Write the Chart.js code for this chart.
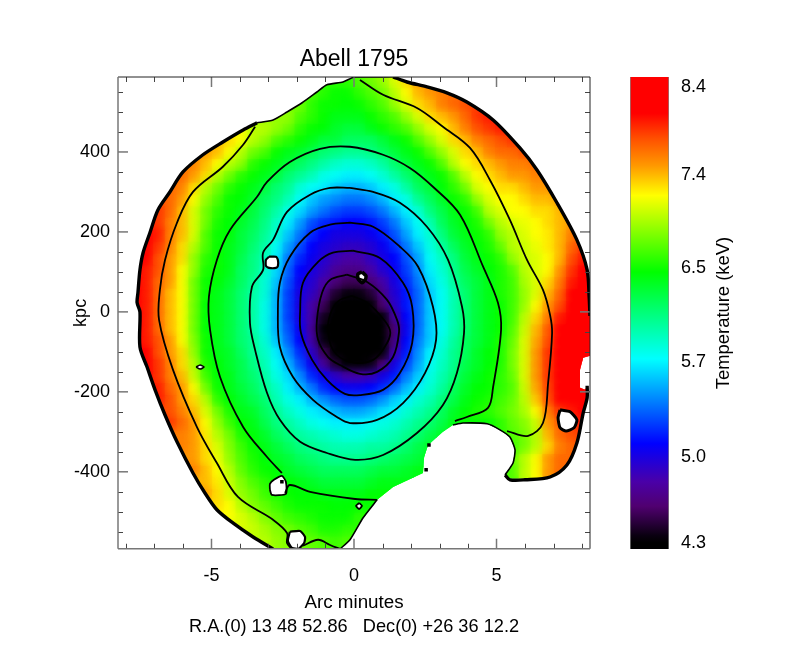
<!DOCTYPE html>
<html>
<head>
<meta charset="utf-8">
<title>Abell 1795</title>
<script src="https://cdn.jsdelivr.net/npm/chart.js@4/dist/chart.umd.min.js"></script>
<style>
body { margin: 0; background: #fff; }
canvas { position: absolute; left: 0; top: 0; }
</style>
</head>
<body>
<canvas id="map" width="786" height="668"></canvas>
<canvas id="bar" width="786" height="668"></canvas>
<script>
// colour table: temperature (keV) and the colour the bar shows there
var colorTemps = [4.3, 4.36, 4.6, 4.8, 5.1, 5.73, 6.15, 6.47, 7.2, 7.5, 7.81, 8.1, 8.4];
var colorHexes = ["#000000", "#0a0010", "#500070", "#4a00a8", "#0000ff", "#00ffff", "#00ff70", "#00ff00", "#ffff00", "#ff9900", "#ff5000", "#ff0000", "#ff0000"];
var barLabels = [4.3, 5.0, 5.7, 6.5, 7.4, 8.4];
var barLabelPlaces = [0, 0.94, 1.98, 3.01, 4.04, 5];

var xTicksMajor = [-5, 0, 5];
var xTicksMinor = [-8, -7, -6, -4, -3, -2, -1, 1, 2, 3, 4, 6, 7, 8];
var yTicksMajor = [-400, -200, 0, 200, 400];
var yTicksMinor = [-550, -500, -450, -350, -300, -250, -150, -100, -50, 50, 100, 150, 250, 300, 350, 450, 500, 550];

// temperature map read by eye, one row per 29.5 kpc from the top, first column of each row in heatStart
var heatStart = [17, 16, 15, 14, 10, 8, 7, 6, 5, 4, 3, 3, 3, 2, 2, 1, 1, 1, 1, 1, 1, 1, 1, 1, 1, 2, 3, 3, 4, 4, 5, 5, 6, 6, 7, 7, 8, 9, 10, 12];
var heatRows = [
[6.6,6.6,6.6,6.7,6.8,6.9,7.1,7.3,7.5,7.6,7.6],
[6.7,6.6,6.5,6.5,6.6,6.7,6.8,7.0,7.2,7.4,7.5,7.6,7.7,7.7],
[6.8,6.6,6.5,6.5,6.45,6.5,6.6,6.7,6.9,7.1,7.3,7.4,7.6,7.7,7.8,7.9],
[6.9,6.7,6.6,6.5,6.4,6.4,6.4,6.5,6.6,6.7,6.9,7.1,7.3,7.4,7.5,7.7,7.9,8.0],
[7.2,7.0,7.0,6.9,6.8,6.6,6.5,6.45,6.35,6.3,6.3,6.4,6.5,6.6,6.7,6.9,7.1,7.2,7.4,7.6,7.8,7.9,8.0],
[7.4,7.3,7.2,7.0,6.9,6.7,6.6,6.5,6.4,6.3,6.3,6.2,6.2,6.2,6.3,6.4,6.5,6.7,6.9,7.1,7.3,7.4,7.6,7.7,7.8,7.9],
[7.5,7.4,7.2,7.0,6.8,6.7,6.5,6.4,6.35,6.25,6.15,6.1,6.05,6.05,6.1,6.2,6.3,6.4,6.5,6.7,6.9,7.1,7.3,7.4,7.6,7.7,7.7,7.8],
[7.6,7.4,7.2,7.0,6.9,6.6,6.5,6.4,6.3,6.2,6.1,6.0,5.9,5.85,5.85,5.9,6.0,6.15,6.3,6.4,6.5,6.7,7.0,7.2,7.3,7.4,7.5,7.6,7.6,7.7,7.8],
[7.7,7.5,7.3,7.0,6.8,6.6,6.5,6.4,6.3,6.15,6.05,5.95,5.8,5.75,5.7,5.7,5.75,5.85,6.0,6.15,6.3,6.4,6.5,6.7,7.0,7.2,7.3,7.4,7.5,7.5,7.6,7.6,7.7],
[7.7,7.6,7.3,7.0,6.8,6.6,6.5,6.4,6.3,6.15,6.05,5.85,5.75,5.7,5.6,5.55,5.55,5.6,5.7,5.8,6.0,6.2,6.3,6.45,6.6,6.8,7.1,7.2,7.3,7.3,7.4,7.5,7.5,7.6],
[7.8,7.7,7.5,7.2,6.9,6.7,6.5,6.45,6.35,6.2,6.1,5.95,5.75,5.6,5.5,5.45,5.4,5.4,5.45,5.55,5.7,5.8,6.05,6.2,6.35,6.5,6.6,6.9,7.1,7.2,7.2,7.3,7.4,7.4,7.5,7.6,7.7],
[7.9,7.7,7.4,7.1,6.8,6.6,6.5,6.4,6.3,6.15,6.0,5.8,5.65,5.5,5.4,5.3,5.25,5.25,5.3,5.4,5.55,5.7,5.85,6.1,6.25,6.4,6.5,6.65,7.0,7.1,7.2,7.2,7.3,7.3,7.4,7.6,7.7],
[7.9,7.6,7.4,7.1,6.8,6.55,6.45,6.35,6.25,6.1,5.9,5.7,5.5,5.3,5.2,5.15,5.1,5.1,5.15,5.25,5.4,5.6,5.75,5.95,6.2,6.35,6.45,6.55,6.8,7.0,7.1,7.15,7.2,7.3,7.4,7.5,7.7],
[8.1,8.0,7.6,7.4,7.1,6.7,6.5,6.45,6.3,6.2,6.05,5.85,5.6,5.4,5.2,5.1,5.0,5.0,5.0,5.05,5.15,5.3,5.5,5.7,5.85,6.1,6.3,6.4,6.5,6.6,6.9,7.0,7.1,7.2,7.25,7.4,7.6,7.8],
[8.1,7.9,7.6,7.3,7.0,6.7,6.5,6.4,6.3,6.15,6.0,5.75,5.5,5.3,5.1,5.0,4.95,4.9,4.9,4.95,5.05,5.2,5.4,5.6,5.8,6.0,6.2,6.35,6.45,6.55,6.75,7.0,7.05,7.15,7.25,7.4,7.7,7.9],
[8.2,8.1,7.8,7.5,7.3,6.9,6.6,6.5,6.4,6.25,6.1,5.95,5.7,5.4,5.2,5.05,4.95,4.85,4.8,4.8,4.9,5.0,5.1,5.3,5.5,5.75,5.9,6.1,6.3,6.4,6.5,6.6,6.9,7.05,7.1,7.2,7.4,7.8,8.0],
[8.2,8.0,7.8,7.5,7.2,6.9,6.55,6.5,6.4,6.2,6.1,5.9,5.65,5.35,5.1,5.0,4.9,4.75,4.7,4.7,4.8,4.95,5.05,5.25,5.45,5.7,5.85,6.05,6.25,6.35,6.45,6.55,6.7,7.0,7.1,7.2,7.5,7.9,8.1],
[8.3,8.0,7.7,7.5,7.2,6.8,6.5,6.45,6.35,6.2,6.05,5.85,5.6,5.3,5.05,4.95,4.8,4.65,4.55,4.55,4.65,4.8,5.0,5.2,5.4,5.65,5.8,6.0,6.2,6.3,6.4,6.55,6.65,6.95,7.1,7.3,7.6,8.0,8.2],
[8.3,8.0,7.7,7.4,7.2,6.8,6.5,6.4,6.3,6.15,6.0,5.85,5.55,5.25,5.0,4.9,4.7,4.45,4.35,4.35,4.45,4.7,4.95,5.15,5.35,5.6,5.75,5.95,6.15,6.3,6.4,6.55,6.65,6.9,7.1,7.4,7.7,8.1,8.3],
[8.3,8.0,7.7,7.4,7.2,6.8,6.45,6.4,6.3,6.15,6.0,5.8,5.55,5.25,5.0,4.8,4.55,4.3,4.3,4.3,4.3,4.6,4.9,5.15,5.35,5.6,5.75,5.95,6.15,6.3,6.4,6.5,6.65,6.9,7.2,7.5,7.8,8.1,8.3],
[8.3,8.0,7.7,7.4,7.2,6.8,6.45,6.4,6.3,6.15,6.0,5.8,5.55,5.25,5.0,4.8,4.4,4.3,4.3,4.3,4.3,4.3,4.75,5.1,5.35,5.6,5.75,5.95,6.15,6.3,6.4,6.5,6.65,7.0,7.3,7.6,8.0,8.3,8.4],
[8.3,8.0,7.7,7.4,7.2,6.8,6.45,6.4,6.3,6.15,6.0,5.8,5.55,5.3,5.05,4.75,4.3,4.3,4.3,4.3,4.3,4.3,4.6,5.05,5.35,5.6,5.75,5.95,6.15,6.3,6.4,6.5,6.7,7.05,7.4,7.75,8.1,8.3,8.4],
[8.3,8.0,7.8,7.5,7.2,6.85,6.5,6.4,6.3,6.15,6.05,5.85,5.6,5.35,5.1,4.8,4.35,4.3,4.3,4.3,4.3,4.3,4.65,5.1,5.4,5.6,5.8,6.0,6.2,6.3,6.4,6.55,6.75,7.1,7.45,7.8,8.15,8.35,8.4],
[8.3,8.1,7.8,7.5,7.3,6.9,6.5,6.4,6.35,6.2,6.05,5.9,5.7,5.45,5.2,4.9,4.55,4.3,4.3,4.3,4.3,4.3,4.8,5.15,5.45,5.7,5.85,6.05,6.2,6.35,6.45,6.55,6.8,7.1,7.5,7.9,8.2,8.4,8.4],
[8.2,8.2,7.9,7.6,7.3,7.0,6.55,6.45,6.35,6.25,6.1,5.95,5.75,5.55,5.3,5.05,4.75,4.45,4.3,4.3,4.35,4.6,5.0,5.25,5.5,5.75,5.9,6.05,6.25,6.35,6.45,6.55,6.8,7.1,7.5,7.9,8.2,8.4,8.4],
[8.2,7.9,7.6,7.4,7.05,6.65,6.45,6.4,6.25,6.15,6.0,5.8,5.65,5.45,5.2,5.05,4.9,4.8,4.8,4.85,5.0,5.15,5.4,5.6,5.8,5.95,6.1,6.3,6.4,6.5,6.6,6.75,7.1,7.5,7.9,8.2,8.35,8.4],
[8.0,7.7,7.5,7.2,6.8,6.5,6.4,6.3,6.2,6.05,5.9,5.7,5.55,5.4,5.2,5.1,5.05,5.05,5.1,5.2,5.35,5.55,5.7,5.85,6.0,6.2,6.35,6.45,6.5,6.6,6.7,7.05,7.45,7.85,8.2,8.3,8.3],
[8.0,7.8,7.5,7.3,7.0,6.6,6.45,6.35,6.25,6.15,5.95,5.8,5.7,5.55,5.45,5.35,5.3,5.3,5.35,5.45,5.6,5.7,5.85,5.95,6.1,6.25,6.4,6.5,6.55,6.65,6.75,7.0,7.35,7.8,8.1,8.2,8.2],
[7.8,7.6,7.4,7.1,6.8,6.55,6.4,6.35,6.2,6.05,5.9,5.8,5.7,5.65,5.55,5.5,5.5,5.55,5.65,5.7,5.85,5.95,6.05,6.2,6.35,6.45,6.55,6.6,6.7,6.8,6.95,7.2,7.6,7.9,8.0,8.1],
[7.9,7.7,7.5,7.2,6.9,6.65,6.45,6.4,6.25,6.1,6.0,5.9,5.8,5.75,5.7,5.7,5.7,5.75,5.8,5.85,5.95,6.05,6.15,6.25,6.4,6.5,6.5,6.5,6.6,6.75,6.85,7.05,7.5,7.75,7.9,8.0],
[7.6,7.5,7.25,7.0,6.8,6.55,6.45,6.35,6.2,6.1,6.0,5.95,5.9,5.85,5.8,5.8,5.85,5.9,5.95,6.05,6.15,6.25,6.35,6.5,6.5,6.5,6.5,6.6,6.7,6.8,7.0,7.4,7.7,7.8,7.9],
[7.6,7.5,7.3,7.1,6.85,6.65,6.5,6.4,6.3,6.2,6.1,6.05,6.0,5.95,5.95,5.95,6.0,6.0,6.05,6.15,6.25,6.35,6.45,6.5,6.5,6.5,6.5,6.6,6.65,6.8,7.0,7.3,7.6,7.7,7.8],
[7.5,7.3,7.15,6.9,6.7,6.55,6.45,6.35,6.3,6.2,6.15,6.1,6.05,6.05,6.05,6.1,6.15,6.2,6.25,6.3,6.4,6.45,6.5,6.5,6.5,6.5,6.6,6.75,7.0,7.2,7.5,7.7,7.7],
[7.6,7.4,7.2,7.0,6.75,6.6,6.5,6.45,6.35,6.3,6.25,6.2,6.2,6.2,6.2,6.25,6.3,6.3,6.35,6.4,6.45,6.5,6.5,6.5,6.5,6.5,6.6,6.7,7.0,7.2,7.5,7.7,7.7],
[7.4,7.25,7.05,6.85,6.7,6.6,6.5,6.45,6.4,6.35,6.3,6.3,6.3,6.3,6.35,6.4,6.4],
[7.5,7.3,7.1,6.9,6.8,6.65,6.55,6.5,6.45,6.45,6.4,6.4,6.4,6.4,6.45,6.45],
[7.3,7.2,7.0,6.85,6.75,6.65,6.55,6.5,6.5,6.5,6.45,6.45,6.5,6.5],
[7.2,7.1,7.0,6.85,6.75,6.65,6.6,6.55,6.5,6.5,6.5,6.6,6.6],
[7.1,7.05,6.95,6.85,6.8,6.7,6.65,6.55,6.55,6.6,6.6],
[7.0,6.9,6.85,6.8,6.75,6.7,6.65,6.7,6.7]
];

// edge of the mapped region, arc minutes and kpc, clockwise from the top
var edgeEast = [[1.37,588],[1.86,575],[2.56,563],[3.26,548],[3.96,525],[4.88,480],[5.82,410],[6.42,355],[7.12,273],[7.82,180],[8.18,105],[8.25,38],[8.28,-10]];
var edgeNotchRight = [[8.28,-110],[8.04,-115],[7.93,-145],[7.93,-190],[8.11,-195]];
var edgeSouthEast = [[8.18,-185],[8.18,-215],[8.04,-253],[7.82,-328],[7.47,-383],[6.88,-413],[6.0,-420],[5.47,-420],[5.3,-408]];
var edgeBay = [[5.3,-408],[5.58,-378],[5.65,-345],[5.47,-313],[5.12,-295],[4.67,-280],[3.82,-278],[3.47,-283]];
var edgeStairs = [[3.12,-300],[2.6,-333],[2.46,-363],[2.42,-403],[1.37,-438]];
var edgeSouth = [[0.81,-470],[0.32,-515],[-0.14,-570],[-0.49,-593]];
var edgeWest = [[-2.84,-593],[-3.54,-563],[-4.25,-528],[-4.81,-495],[-5.23,-453],[-5.65,-403],[-6.21,-325],[-6.63,-258],[-6.98,-195],[-7.26,-138],[-7.51,-88],[-7.51,0],[-7.61,23],[-7.58,48],[-7.51,105],[-7.4,148],[-7.16,198],[-6.88,255],[-6.46,300],[-6.0,350],[-5.3,393],[-4.6,425],[-3.89,455],[-3.4,473]];
var edgeNorth = [[-3.4,473],[-2.84,480],[-2.35,500],[-1.82,523],[-1.3,550],[-0.95,568],[-0.39,575],[0.04,588],[1.37,588]];

// contour lines
var contourEast = [[0.21,580],[1.02,543],[2.21,510],[3.12,463],[4.07,410],[4.77,330],[5.47,230],[6.07,130],[6.63,55],[6.88,-8],[6.95,-53],[6.81,-178],[6.63,-278],[6.11,-310],[5.37,-298]];
var contourWest = [[-3.47,463],[-3.89,418],[-4.6,363],[-5.65,300],[-6.21,223],[-6.63,130],[-6.81,55],[-6.84,-20],[-6.35,-145],[-5.51,-288],[-4.81,-378],[-4.07,-463],[-2.84,-520],[-2.35,-553],[-2.35,-578],[-2.18,-593]];
var contourFoot = [[-1.79,-585],[-1.26,-570],[-0.84,-583],[-0.49,-593]];
var contourMid = [[3.54,-273],[3.96,-263],[4.7,-240],[4.88,-188],[5.16,-45],[5.05,23],[4.53,113],[3.72,243],[2.77,313],[1.96,360],[1.02,393],[-0.14,413],[-1.19,408],[-2.25,375],[-3.05,325],[-3.4,288],[-4.35,205],[-4.81,130],[-5.09,38],[-5.05,-45],[-4.7,-163],[-3.89,-288],[-3.05,-363],[-2.53,-403]];
var contourMidSouth = [[-2.42,-453],[-2.25,-433],[-1.54,-450],[0.04,-468],[0.81,-470]];
var contour60 = [[-0.14,310],[0.67,300],[1.61,273],[2.56,213],[3.3,130],[3.79,13],[3.86,-53],[3.61,-153],[3.12,-233],[2.21,-303],[1.02,-358],[0.04,-370],[-0.95,-353],[-1.89,-325],[-2.6,-270],[-3.05,-203],[-3.47,-95],[-3.65,-28],[-3.58,63],[-3.19,105],[-3.19,148],[-2.84,180],[-2.35,250],[-1.54,293],[-0.84,310],[-0.14,310]];
var contour57 = [[-0.14,223],[0.67,213],[1.61,163],[2.25,113],[2.77,13],[2.88,-70],[2.49,-153],[1.72,-228],[0.81,-270],[-0.14,-278],[-0.6,-263],[-1.44,-220],[-2.14,-163],[-2.6,-88],[-2.67,0],[-2.6,73],[-2.25,138],[-1.54,198],[-0.84,218],[-0.14,223]];
var contour53 = [[-0.04,153],[0.91,135],[1.72,73],[2.04,13],[2.04,-78],[1.61,-153],[1.02,-195],[0.21,-208],[-0.32,-205],[-0.95,-170],[-1.47,-120],[-1.86,-53],[-1.89,0],[-1.79,73],[-1.26,125],[-0.74,148],[-0.04,153]];
var contour49 = [[-0.25,93],[0.46,75],[1.16,30],[1.51,-20],[1.58,-50],[1.37,-113],[0.81,-150],[0.21,-155],[-0.49,-133],[-0.91,-113],[-1.26,-70],[-1.3,-20],[-1.12,48],[-0.84,80],[-0.25,93]];
var contour45 = [[-0.07,40],[0.46,23],[0.91,-8],[1.26,-45],[1.16,-78],[0.67,-120],[-0.14,-125],[-0.74,-95],[-0.91,-38],[-0.77,5],[-0.49,30],[-0.07,40]];
var contourLines = [contourEast, contourWest, contourFoot, contourMid, contourMidSouth, contour60, contour57, contour53, contour49, contour45];

// masked sources (white holes)
var holes = [
[[-2.98,138],[-2.74,138],[-2.67,130],[-2.67,115],[-2.74,110],[-2.98,110],[-3.09,115],[-3.09,130],[-2.98,138]],
[[-5.54,-138],[-5.4,-133],[-5.26,-138],[-5.4,-143],[-5.54,-138]],
[[-2.95,-445],[-2.95,-430],[-2.81,-420],[-2.53,-410],[-2.39,-425],[-2.39,-455],[-2.88,-458],[-2.95,-445]],
[[-2.25,-550],[-1.89,-548],[-1.72,-563],[-1.75,-578],[-1.96,-593],[-2.18,-590],[-2.32,-573],[-2.25,-550]],
[[0.18,-478],[0.28,-485],[0.18,-493],[0.07,-485],[0.18,-478]],
[[7.23,-245],[7.58,-250],[7.82,-270],[7.72,-290],[7.44,-298],[7.23,-290],[7.16,-265],[7.23,-245]],
[[0.28,100],[0.42,90],[0.39,80],[0.28,73],[0.14,83],[0.14,95],[0.28,100]]
];
var holeWidths = [2.2, 1.6, 1.8, 2.2, 1.8, 3, 3.6];
var specks = [[-2.53,-425],[2.53,-395],[2.63,-333]];

var fontName = "'Liberation Sans', Arial, sans-serif";

function toPoints(list) {
    return list.map(function (p) { return {x: p[0], y: p[1]}; });
}

function hexToRgb(hex) {
    return [parseInt(hex.substr(1, 2), 16), parseInt(hex.substr(3, 2), 16), parseInt(hex.substr(5, 2), 16)];
}

function tempColor(t) {
    for (var i = 1; i < colorTemps.length; i++) {
        if (t <= colorTemps[i]) {
            var f = (t - colorTemps[i - 1]) / (colorTemps[i] - colorTemps[i - 1]);
            var a = hexToRgb(colorHexes[i - 1]), b = hexToRgb(colorHexes[i]);
            return "rgb(" + Math.round(a[0] + (b[0] - a[0]) * f) + "," + Math.round(a[1] + (b[1] - a[1]) * f) + "," + Math.round(a[2] + (b[2] - a[2]) * f) + ")";
        }
    }
    return colorHexes[colorHexes.length - 1];
}

// the map cells: a repeat of the row ends and of the first and last row keeps the clipped edge opaque
var cellX = 16.56 / 40, cellY = 29.5;
var heatPoints = [], heatColors = [];
function addCell(col, row, t) {
    heatPoints.push({x: -8.28 + cellX * (col + 0.5), y: 587.5 - cellY * (row + 0.5)});
    heatColors.push(tempColor(t));
}
function addRow(row, src) {
    var vals = heatRows[src], start = heatStart[src];
    for (var k = -3; k < vals.length + 3; k++) {
        var v = vals[Math.max(0, Math.min(vals.length - 1, k))];
        addCell(start + k, row, v);
    }
}
addRow(-1, 0);
heatRows.forEach(function (r, j) { addRow(j, j); });
addRow(40, 39);

var edgePolygon = [].concat(edgeEast, edgeNotchRight, edgeSouthEast, edgeBay, edgeStairs, edgeSouth, edgeWest, edgeNorth);

function isHeat(chart, args) {
    var name = chart.data.datasets[args.index].label;
    return name === "temperature" || name === "temperature base";
}

var clipToEdge = {
    id: "clipToEdge",
    beforeDatasetDraw: function (chart, args) {
        if (!isHeat(chart, args)) return;
        var ctx = chart.ctx;
        ctx.save();
        ctx.beginPath();
        edgePolygon.forEach(function (p, i) {
            var px = chart.scales.x.getPixelForValue(p[0]), py = chart.scales.y.getPixelForValue(p[1]);
            if (i === 0) ctx.moveTo(px, py); else ctx.lineTo(px, py);
        });
        ctx.closePath();
        ctx.clip();
        // the base layer stays sharp so nothing shows through the blurred one
        if (chart.data.datasets[args.index].label === "temperature") ctx.filter = "blur(5px)";
    },
    afterDatasetDraw: function (chart, args) {
        if (isHeat(chart, args)) chart.ctx.restore();
    }
};

var frameTicks = {
    id: "frameTicks",
    afterDatasetsDraw: function (chart) {
        var ctx = chart.ctx, a = chart.chartArea, sx = chart.scales.x, sy = chart.scales.y;
        function tick(x1, y1, x2, y2, width, color) {
            ctx.beginPath();
            ctx.moveTo(x1, y1);
            ctx.lineTo(x2, y2);
            ctx.lineWidth = width;
            ctx.strokeStyle = color;
            ctx.stroke();
        }
        ctx.save();
        xTicksMinor.forEach(function (v) {
            var p = Math.round(sx.getPixelForValue(v)) + 0.5;
            tick(p, a.bottom, p, a.bottom - 5, 1, "#444");
            tick(p, a.top, p, a.top + 5, 1, "#444");
        });
        xTicksMajor.forEach(function (v) {
            var p = sx.getPixelForValue(v);
            tick(p, a.bottom, p, a.bottom - 10, 1.5, "#777");
            tick(p, a.top, p, a.top + 10, 1.5, "#777");
        });
        yTicksMinor.forEach(function (v) {
            var p = Math.round(sy.getPixelForValue(v)) + 0.5;
            tick(a.left, p, a.left + 5, p, 1, "#444");
            tick(a.right, p, a.right - 5, p, 1, "#444");
        });
        yTicksMajor.forEach(function (v) {
            var p = sy.getPixelForValue(v);
            tick(a.left, p, a.left + 10, p, 1.5, "#777");
            tick(a.right, p, a.right - 10, p, 1.5, "#777");
        });
        tick(a.left, a.top, a.right, a.top, 1, "#222");
        tick(a.right, a.top, a.right, a.bottom, 1, "#222");
        tick(a.left, a.top, a.left, a.bottom, 1.5, "#777");
        tick(a.left, a.bottom, a.right, a.bottom, 1.5, "#777");
        ctx.restore();
    }
};

function lineSet(list, width, tension) {
    return {
        data: toPoints(list), showLine: true, pointRadius: 0, borderColor: "#000",
        borderWidth: width, tension: tension, order: 1
    };
}

function valueTicks(list) {
    return function (scale) {
        scale.ticks = list.map(function (v) { return {value: v}; });
    };
}

var mapSets = [];
[edgeEast, edgeSouthEast, edgeWest].forEach(function (e) { mapSets.push(lineSet(e, 3.4, 0.3)); });
[edgeNorth, edgeBay, edgeSouth].forEach(function (e) { mapSets.push(lineSet(e, 1.6, 0.2)); });
contourLines.forEach(function (c) { mapSets.push(lineSet(c, 1.8, 0.35)); });
holes.forEach(function (h, i) {
    var s = lineSet(h, holeWidths[i], 0.2);
    s.fill = "shape";
    s.backgroundColor = "#fff";
    s.order = 2;
    mapSets.push(s);
});
mapSets.push({data: toPoints(specks), pointStyle: "rect", pointRadius: 2.5, pointBackgroundColor: "#000", pointBorderWidth: 0, order: 1});
mapSets.push({
    label: "temperature", data: heatPoints, pointStyle: "rect", pointRadius: 10,
    pointBackgroundColor: heatColors, pointBorderWidth: 0, order: 10
});
mapSets.push({
    label: "temperature base", data: heatPoints, pointStyle: "rect", pointRadius: 9,
    pointBackgroundColor: heatColors, pointBorderWidth: 0, order: 11
});

new Chart(document.getElementById("map"), {
    type: "scatter",
    data: {datasets: mapSets},
    plugins: [clipToEdge, frameTicks],
    options: {
        responsive: false,
        animation: false,
        layout: {padding: {left: 70, right: 196, top: 46, bottom: 30}},
        plugins: {
            legend: {display: false},
            tooltip: {enabled: false},
            title: {
                display: true, text: "Abell 1795", color: "#000", fullSize: false,
                font: {family: fontName, size: 23, weight: "normal"}, padding: {top: 0, bottom: 3.4}
            },
            subtitle: {
                display: true, position: "bottom", text: "R.A.(0) 13 48 52.86   Dec(0) +26 36 12.2", color: "#000", fullSize: false,
                font: {family: fontName, size: 18.2, weight: "normal"}, padding: 0
            }
        },
        scales: {
            x: {
                type: "linear", min: -8.28, max: 8.28,
                grid: {display: false}, border: {display: false},
                afterBuildTicks: valueTicks(xTicksMajor),
                ticks: {color: "#000", padding: 8, maxRotation: 0, font: {family: fontName, size: 18}},
                title: {display: true, text: "Arc minutes", color: "#000", font: {family: fontName, size: 18.8}, padding: {top: 0, bottom: 2}},
                afterFit: function (scale) { scale.height = 67.4; }
            },
            y: {
                type: "linear", min: -592.5, max: 587.5,
                grid: {display: false}, border: {display: false},
                afterBuildTicks: valueTicks(yTicksMajor),
                ticks: {color: "#000", padding: 0, font: {family: fontName, size: 18}},
                title: {display: true, text: "kpc", color: "#000", font: {family: fontName, size: 18}, padding: {top: 0, bottom: 0}},
                afterFit: function (scale) { scale.width = 48; }
            }
        }
    }
});

// colour bar, its axis runs by label place because the labels are not evenly spaced in keV
function tempToBarPos(t) {
    for (var i = 1; i < barLabels.length; i++) {
        if (t <= barLabels[i]) {
            var f = (t - barLabels[i - 1]) / (barLabels[i] - barLabels[i - 1]);
            return barLabelPlaces[i - 1] + (barLabelPlaces[i] - barLabelPlaces[i - 1]) * f;
        }
    }
    return barLabelPlaces[barLabelPlaces.length - 1];
}

function barGradient(context) {
    var chart = context.chart, area = chart.chartArea;
    if (!area) return "#888";
    var g = chart.ctx.createLinearGradient(0, area.bottom, 0, area.top);
    colorTemps.forEach(function (t, i) {
        var f = (area.bottom - chart.scales.y.getPixelForValue(tempToBarPos(t))) / (area.bottom - area.top);
        g.addColorStop(Math.max(0, Math.min(1, f)), colorHexes[i]);
    });
    return g;
}

var barCaption = {
    id: "barCaption",
    afterDraw: function (chart) {
        var ctx = chart.ctx;
        ctx.save();
        ctx.translate(724, 313);
        ctx.rotate(-Math.PI / 2);
        ctx.font = "18.4px " + fontName;
        ctx.fillStyle = "#000";
        ctx.textAlign = "center";
        ctx.textBaseline = "middle";
        ctx.fillText("Temperature (keV)", 0, 0);
        ctx.restore();
    }
};

new Chart(document.getElementById("bar"), {
    type: "bar",
    data: {
        labels: ["Temperature (keV)"],
        datasets: [{
            data: [[-0.066, 5.11]], backgroundColor: barGradient,
            barPercentage: 1, categoryPercentage: 1, borderColor: "#888", borderWidth: {left: 1, right: 1}
        }]
    },
    plugins: [barCaption],
    options: {
        responsive: false,
        animation: false,
        layout: {padding: {left: 630, right: 57, top: 77, bottom: 119}},
        plugins: {legend: {display: false}, tooltip: {enabled: false}},
        scales: {
            x: {display: false},
            y: {
                position: "right", min: -0.066, max: 5.11,
                grid: {display: false}, border: {display: false},
                afterBuildTicks: valueTicks(barLabelPlaces),
                ticks: {
                    color: "#000", padding: 4, font: {family: fontName, size: 18},
                    callback: function (v, i) { return barLabels[i].toFixed(1); }
                },
                afterFit: function (scale) { scale.width = 60; }
            }
        }
    }
});
</script>
</body>
</html>
